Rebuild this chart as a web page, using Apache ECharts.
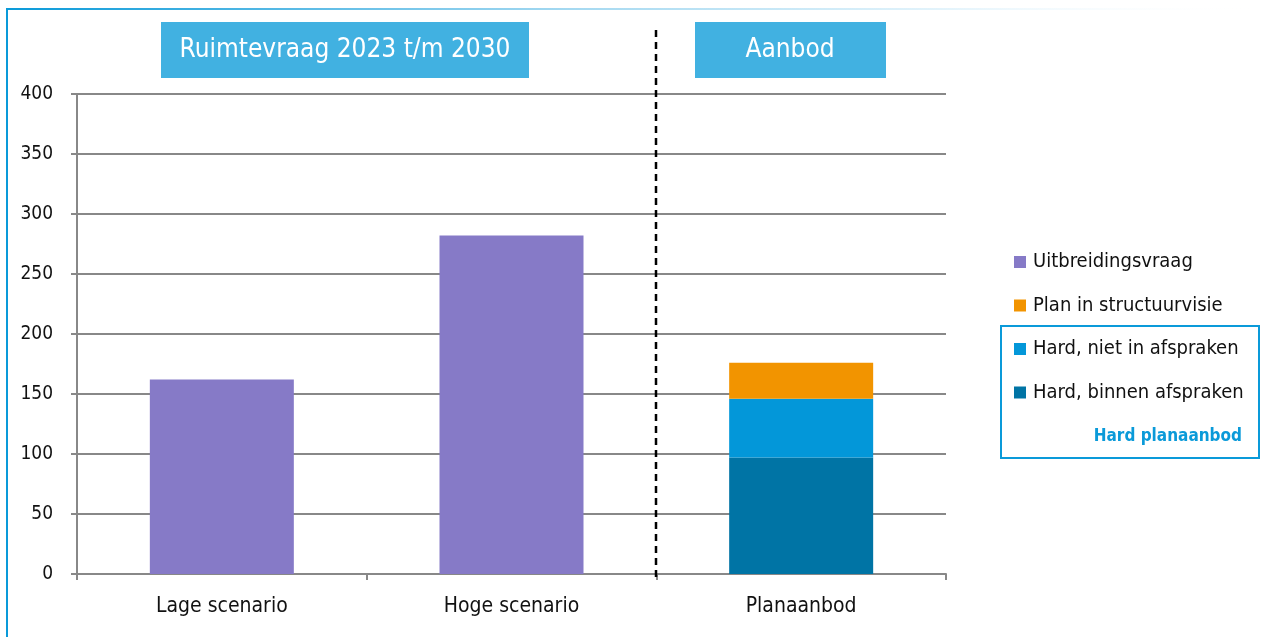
<!DOCTYPE html>
<html>
<head>
<meta charset="utf-8">
<script src="https://cdn.jsdelivr.net/npm/echarts@6/dist/echarts.min.js"></script>
<style>
html,body{margin:0;padding:0;background:#fff;}
#chart{width:1261px;height:637px;}
</style>
</head>
<body>
<div id="chart"></div>
<script>
const categories = ['Lage scenario', 'Hoge scenario', 'Planaanbod'];
const yTicks = [0, 50, 100, 150, 200, 250, 300, 350, 400];
const uitbreidingsvraag = [162, 282, '-'];
const hardBinnen = ['-', '-', 97];
const hardNiet = ['-', '-', 49];
const planStructuurvisie = ['-', '-', 30];
const seriesNames = ['Uitbreidingsvraag', 'Plan in structuurvisie', 'Hard, niet in afspraken', 'Hard, binnen afspraken'];
const panelTitles = ['Ruimtevraag 2023 t/m 2030', 'Aanbod'];
const groupLabel = 'Hard planaanbod';

const FONT = "'Liberation Sans Narrow', 'DejaVu Sans Condensed', 'Roboto Condensed', sans-serif";
const chart = echarts.init(document.getElementById('chart'));

const option = {
  animation: false,
  backgroundColor: '#ffffff',
  textStyle: { fontFamily: FONT },
  grid: { left: 77, right: 315, top: 94, bottom: 63, containLabel: false },
  xAxis: {
    type: 'category',
    data: categories,
    boundaryGap: true,
    axisLine: { lineStyle: { color: '#888888', width: 2 } },
    axisTick: { show: true, length: 6, lineStyle: { color: '#888888', width: 2 } },
    axisLabel: { color: '#111', fontSize: 21, fontFamily: FONT, margin: 22 }
  },
  yAxis: {
    type: 'value',
    min: yTicks[0],
    max: yTicks[yTicks.length - 1],
    interval: 50,
    axisLine: { show: true, lineStyle: { color: '#888888', width: 2 } },
    axisTick: { show: true, length: 6, lineStyle: { color: '#888888', width: 2 } },
    axisLabel: { color: '#111', fontSize: 19, fontFamily: FONT, margin: 24 },
    splitLine: { show: true, lineStyle: { color: '#888888', width: 2 } }
  },
  legend: {
    orient: 'vertical',
    left: 1014,
    top: 252,
    padding: 0,
    itemWidth: 12,
    itemHeight: 12,
    itemGap: 23.5,
    icon: 'rect',
    data: seriesNames,
    textStyle: { fontSize: 20, color: '#111', fontFamily: FONT, lineHeight: 20, padding: [0, 0, 0, 2] }
  },
  series: [
    { name: seriesNames[0], type: 'bar', stack: 's', data: uitbreidingsvraag, barWidth: 144,
      itemStyle: { color: '#867ac7' } },
    { name: seriesNames[3], type: 'bar', stack: 's', data: hardBinnen, barWidth: 144,
      itemStyle: { color: '#0074a5' } },
    { name: seriesNames[2], type: 'bar', stack: 's', data: hardNiet, barWidth: 144,
      itemStyle: { color: '#0397d9' } },
    { name: seriesNames[1], type: 'bar', stack: 's', data: planStructuurvisie, barWidth: 144,
      itemStyle: { color: '#f29400' } }
  ],
  graphic: [
    { type: 'rect', shape: { x: 6, y: 8, width: 1255, height: 2 },
      style: { fill: new echarts.graphic.LinearGradient(0, 0, 1, 0, [
        { offset: 0, color: '#0a9ad9' }, { offset: 0.45, color: '#a5d9f1' }, { offset: 0.8, color: '#eef8fd' }, { offset: 1, color: 'rgba(255,255,255,0)' }]) }, silent: true },
    { type: 'rect', shape: { x: 6, y: 8, width: 2, height: 629 }, style: { fill: '#0a9ad9' }, silent: true },
    { type: 'rect', shape: { x: 161, y: 22, width: 368, height: 56 }, style: { fill: '#41b1e1' }, silent: true },
    { type: 'text', x: 345, y: 50, style: { text: panelTitles[0], fill: '#fff', fontSize: 26, fontFamily: FONT, align: 'center', verticalAlign: 'middle' } },
    { type: 'rect', shape: { x: 695, y: 22, width: 191, height: 56 }, style: { fill: '#41b1e1' }, silent: true },
    { type: 'text', x: 790, y: 50, style: { text: panelTitles[1], fill: '#fff', fontSize: 26, fontFamily: FONT, align: 'center', verticalAlign: 'middle' } },
    { type: 'line', shape: { x1: 656, y1: 30, x2: 656, y2: 578 }, style: { stroke: '#000', lineWidth: 2.5, lineDash: [7, 5] }, z: 10 },
    { type: 'rect', shape: { x: 1001, y: 326, width: 258, height: 132 }, style: { fill: 'none', stroke: '#0a9ad9', lineWidth: 2 } },
    { type: 'text', x: 1242, y: 437, style: { text: groupLabel, fill: '#0a9ad9', fontSize: 17, fontWeight: 'bold', fontFamily: FONT, align: 'right', verticalAlign: 'middle' } }
  ]
};
chart.setOption(option);
</script>
</body>
</html>
